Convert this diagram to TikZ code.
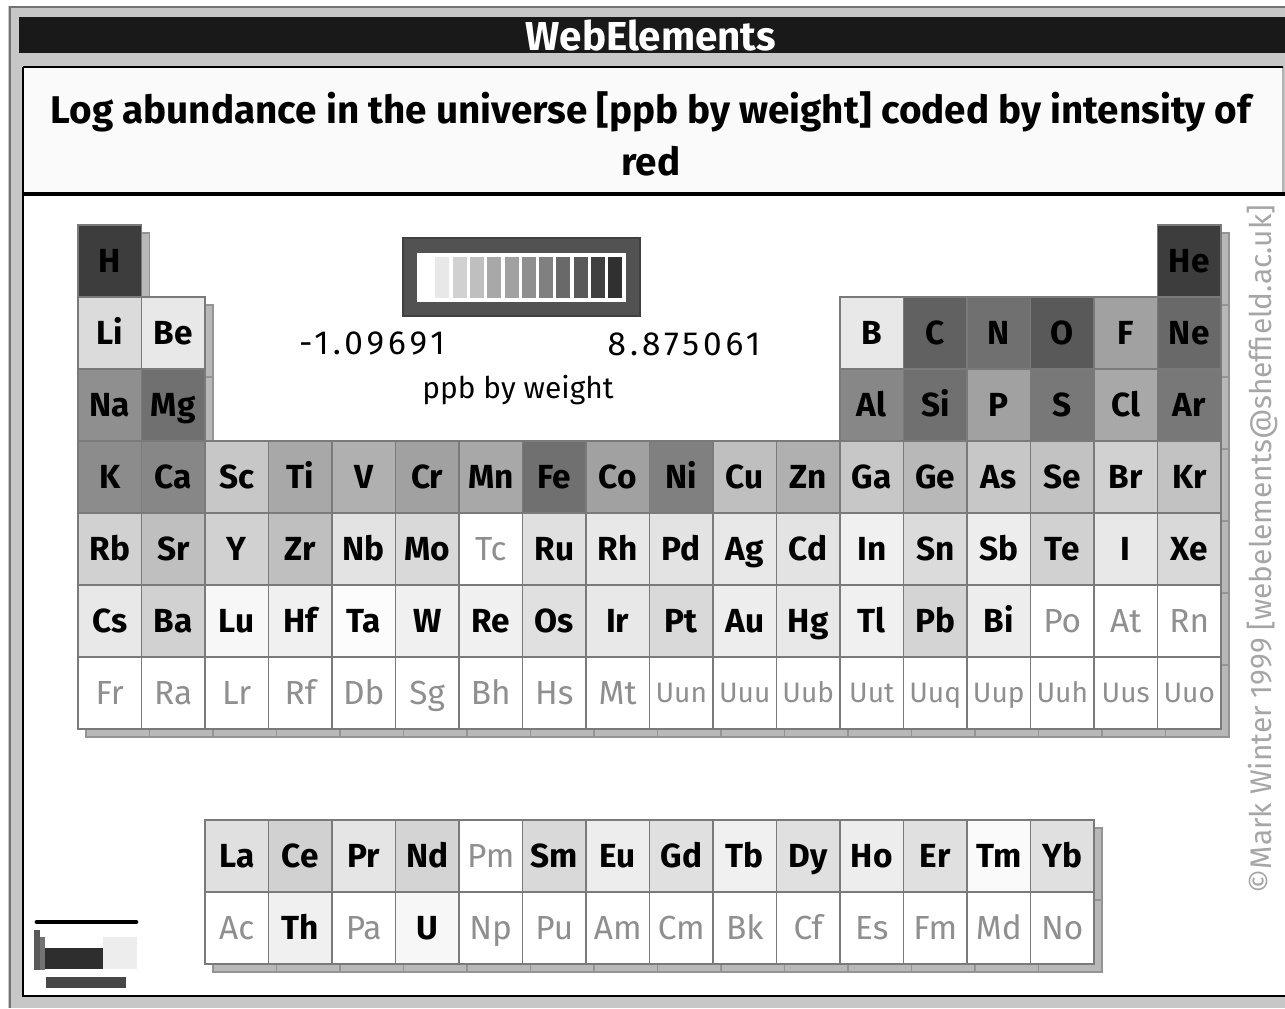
\documentclass[tikz,border=0pt]{standalone}
\usepackage{fontspec}
\setmainfont{Fira Sans}
\usetikzlibrary{positioning}
\definecolor{framegray}{gray}{0.78}
\definecolor{greytext}{gray}{0.56}

\begin{document}
\begin{tikzpicture}[x=0.02cm, y=-0.02cm,
  cell/.style={draw=black!52, line width=1.1pt, minimum width=1.27cm, minimum height=1.44cm, inner sep=0pt,
    text height=17pt, text depth=4pt, font=\fontsize{19}{20}\selectfont\bfseries},
  synth/.style={cell, fill=white, text=greytext, font=\fontsize{19}{20}\selectfont},
  smallsynth/.style={synth, text height=15pt, text depth=4pt, font=\fontsize{16}{17}\selectfont},
  shadecell/.style={fill=black!28, draw=black!42, line width=0.8pt}]

\useasboundingbox (0,0) rectangle (1285,1008);

% window frame
\fill[framegray] (8,6) rectangle (1285,1008);
\draw[black!55, line width=0.6pt] (10,1008) -- (10,7) -- (1285,7);
\fill[black!90] (19,17) rectangle (1285,53);
\fill[black!2] (23,67) rectangle (1283,194);
\draw[black!30, line width=0.6pt] (1283,67) -- (1283,194);
\fill[white] (23,194) rectangle (1285,996);
\draw[black, line width=1pt] (23,67) -- (1283,67);
\draw[black, line width=1.8pt] (23,194) -- (1285,194);
\draw[black, line width=1.6pt] (23,67) -- (23,996) -- (1285,996);

% titles
\node[text=white, font=\fontsize{23}{24}\selectfont\bfseries] (title) at (651,36) {WebElements};
\node[align=center, font=\fontsize{22}{29.5}\selectfont\bfseries] (caption) at (651,134)
  {Log abundance in the universe [ppb by weight] coded by intensity of\\red};

% shadows
\foreach \c in {1,...,18}
  \foreach \r in {4,...,7}
    \filldraw[shadecell] ({86+63.5*(\c-1)},{233+72*(\r-1)}) rectangle ++(63.5,72);
\foreach \c in {1,2,13,14,15,16,17,18}
  \foreach \r in {2,3}
    \filldraw[shadecell] ({86+63.5*(\c-1)},{233+72*(\r-1)}) rectangle ++(63.5,72);
\foreach \c in {1,18}
  \filldraw[shadecell] ({86+63.5*(\c-1)},233) rectangle ++(63.5,72);
\foreach \c in {3,...,16}
  \foreach \y in {828,900}
    \filldraw[shadecell] ({86+63.5*(\c-1)},\y) rectangle ++(63.5,72);

% main table
\foreach \c/\r/\s/\g in {1/1/H/76, 18/1/He/76,
  1/2/Li/14, 2/2/Be/9, 13/2/B/9, 14/2/C/62, 15/2/N/56, 16/2/O/65, 17/2/F/37, 18/2/Ne/59,
  1/3/Na/44, 2/3/Mg/56, 13/3/Al/47, 14/3/Si/56, 15/3/P/37, 16/3/S/53, 17/3/Cl/34, 18/3/Ar/53,
  1/4/K/45, 2/4/Ca/47, 3/4/Sc/22, 4/4/Ti/34, 5/4/V/31, 6/4/Cr/37, 7/4/Mn/34, 8/4/Fe/56, 9/4/Co/37,
  10/4/Ni/50, 11/4/Cu/25, 12/4/Zn/31, 13/4/Ga/22, 14/4/Ge/28, 15/4/As/22, 16/4/Se/24, 17/4/Br/18, 18/4/Kr/24,
  1/5/Rb/18, 2/5/Sr/25, 3/5/Y/18, 4/5/Zr/25, 5/5/Nb/11, 6/5/Mo/15, 8/5/Ru/12, 9/5/Rh/9, 10/5/Pd/11,
  11/5/Ag/9, 12/5/Cd/11, 13/5/In/6, 14/5/Sn/14, 15/5/Sb/7, 16/5/Te/18, 17/5/I/9, 18/5/Xe/15,
  1/6/Cs/9, 2/6/Ba/18, 3/6/Lu/3, 4/6/Hf/6, 5/6/Ta/1, 6/6/W/6, 7/6/Re/6, 8/6/Os/12, 9/6/Ir/9,
  10/6/Pt/15, 11/6/Au/7, 12/6/Hg/9, 13/6/Tl/6, 14/6/Pb/17, 15/6/Bi/7}
  \node[cell, fill=black!\g] (el-\s) at ({46.25+63.5*\c},{189+72*\r}) {\s};

\foreach \c/\r/\s in {7/5/Tc, 16/6/Po, 17/6/At, 18/6/Rn, 1/7/Fr, 2/7/Ra, 3/7/Lr, 4/7/Rf, 5/7/Db,
  6/7/Sg, 7/7/Bh, 8/7/Hs, 9/7/Mt}
  \node[synth] (el-\s) at ({46.25+63.5*\c},{189+72*\r}) {\s};
\foreach \c/\s in {10/Uun, 11/Uuu, 12/Uub, 13/Uut, 14/Uuq, 15/Uup, 16/Uuh, 17/Uus, 18/Uuo}
  \node[smallsynth] (el-\s) at ({46.25+63.5*\c},693) {\s};

% lanthanides and actinides
\foreach \c/\s/\g in {3/La/12, 4/Ce/18, 5/Pr/10, 6/Nd/17, 8/Sm/15, 9/Eu/7, 10/Gd/12, 11/Tb/6,
  12/Dy/12, 13/Ho/7, 14/Er/12, 15/Tm/2, 16/Yb/12}
  \node[cell, fill=black!\g] (el-\s) at ({46.25+63.5*\c},856) {\s};
\node[synth] (el-Pm) at ({46.25+63.5*7},856) {Pm};
\foreach \c/\s/\g in {4/Th/6, 6/U/3}
  \node[cell, fill=black!\g] (el-\s) at ({46.25+63.5*\c},928) {\s};
\foreach \c/\s in {3/Ac, 5/Pa, 7/Np, 8/Pu, 9/Am, 10/Cm, 11/Bk, 12/Cf, 13/Es, 14/Fm, 15/Md, 16/No}
  \node[synth] (el-\s) at ({46.25+63.5*\c},928) {\s};

% legend bar
\filldraw[fill=black!68, draw=black!75, line width=0.6pt] (403,238) rectangle (640,316);
\fill[white] (417,253) rectangle (626,302);
\foreach \i/\g in {1/9, 2/18, 3/25, 4/34, 5/37, 6/44, 7/50, 8/59, 9/65, 10/75, 11/81}
  \fill[black!\g] ({418+17.3*\i},257) rectangle ++(14,41);
\node[font=\fontsize{19}{20}\selectfont\addfontfeature{LetterSpace=12}] (minval) at (372,344) {-1.09691};
\node[font=\fontsize{19}{20}\selectfont\addfontfeature{LetterSpace=12}] (maxval) at (684,344) {8.875061};
\node[font=\fontsize{17}{18}\selectfont] (unit) at (518,390) {ppb by weight};

% copyright
\node[rotate=90, text=black!35, font=\fontsize{17}{18}\selectfont] (copy) at (1262,549)
  {©Mark Winter 1999 [webelements@sheffield.ac.uk]};

% small icon
\draw[line width=2.8pt, line cap=round] (37,922) -- (136,922);
\fill[black!65] (34,930) rectangle (40,970);
\fill[black!55] (40,937) rectangle (45,970);
\fill[black!82] (45,948) rectangle (103,969);
\fill[black!7] (103,937) rectangle (137,969);
\fill[black!72] (46,977) rectangle (126,988);

\end{tikzpicture}
\end{document}
